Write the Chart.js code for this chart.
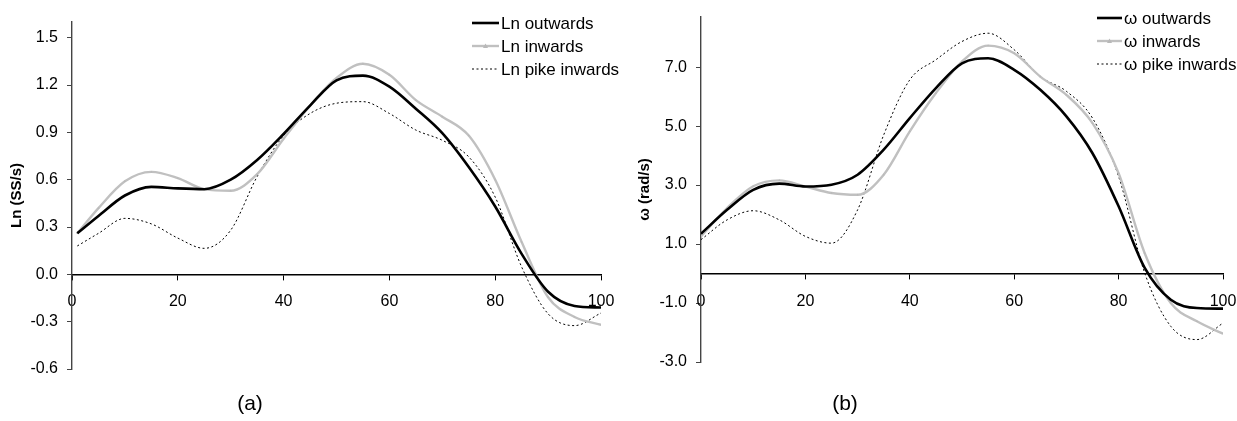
<!DOCTYPE html>
<html>
<head>
<meta charset="utf-8">
<script src="https://cdn.jsdelivr.net/npm/chart.js@4.4.0/dist/chart.umd.min.js"></script>
<style>
  body { margin:0; background:#fff; width:1237px; height:421px; position:relative; overflow:hidden;
         font-family: Arial, "Liberation Sans", sans-serif; }
  canvas { position:absolute; top:0; }
  #chartA { left:0; }
  #chartB { left:620px; }
  .cap { position:absolute; top:391px; width:60px; text-align:center; font-size:21px; color:#000; }
</style>
</head>
<body>
<canvas id="chartA" width="620" height="421"></canvas>
<canvas id="chartB" width="617" height="421"></canvas>
<div class="cap" style="left:220px">(a)</div>
<div class="cap" style="left:815px">(b)</div>
<script>
// % of cycle
const pctA = [1, 5, 10, 15, 20, 25, 30, 35, 40, 45, 50, 55, 60, 65, 70, 75, 80, 85, 90, 95, 100];
const pctB = [0, 5, 10, 15, 20, 25, 30, 35, 40, 45, 50, 55, 60, 65, 70, 75, 80, 85, 90, 95, 100];

// (a) Ln (SS/s)
const lnOutwards = [0.26, 0.37, 0.50, 0.555, 0.545, 0.54, 0.60, 0.725, 0.89, 1.07, 1.23, 1.26, 1.19, 1.05, 0.895, 0.68, 0.43, 0.13, -0.11, -0.20, -0.21];
const lnInwards = [0.26, 0.42, 0.59, 0.65, 0.61, 0.54, 0.53, 0.635, 0.86, 1.07, 1.245, 1.335, 1.265, 1.105, 1.0, 0.88, 0.60, 0.205, -0.145, -0.27, -0.32];
const lnPikeInwards = [0.18, 0.26, 0.355, 0.32, 0.23, 0.165, 0.28, 0.62, 0.88, 1.02, 1.085, 1.095, 1.02, 0.915, 0.85, 0.745, 0.49, 0.047, -0.25, -0.325, -0.245];

// (b) omega (rad/s)
const wOutwards = [1.35, 2.16, 2.84, 3.05, 2.95, 3.01, 3.35, 4.2, 5.27, 6.29, 7.13, 7.3, 6.91, 6.23, 5.33, 4.08, 2.28, 0.19, -0.89, -1.17, -1.19];
const wInwards = [1.26, 2.22, 2.96, 3.16, 2.95, 2.73, 2.67, 3.35, 4.82, 6.12, 7.19, 7.73, 7.47, 6.68, 6.06, 5.1, 3.4, 0.69, -1.0, -1.62, -2.04];
const wPikeInwards = [1.15, 1.82, 2.13, 1.82, 1.26, 1.03, 2.16, 4.7, 6.57, 7.25, 7.87, 8.15, 7.59, 6.68, 6.18, 5.27, 3.29, 0.02, -1.79, -2.24, -1.68];

// tick labels
const xTicks = [0, 20, 40, 60, 80, 100];
const yTicksA = [-0.6, -0.3, 0.0, 0.3, 0.6, 0.9, 1.2, 1.5];
const yTicksB = [-3, -1, 1, 3, 5, 7];

const FONT = 'Arial, "Liberation Sans", sans-serif';
Chart.defaults.font.family = FONT;
Chart.defaults.font.size = 16;
Chart.defaults.color = '#000';

// legend drawn inside the plot, like the original
const legendBox = {
  id: 'legendBox',
  afterDraw(chart, args, opts) {
    const ctx = chart.ctx;
    ctx.save();
    ctx.font = '17px ' + FONT;
    ctx.textBaseline = 'middle';
    chart.data.datasets.forEach((ds, i) => {
      const y = opts.y + i * opts.gap;
      ctx.beginPath();
      ctx.strokeStyle = ds.borderColor;
      ctx.lineWidth = ds.borderWidth;
      ctx.setLineDash(ds.borderDash || []);
      ctx.moveTo(opts.x, y);
      ctx.lineTo(opts.x + opts.len, y);
      ctx.stroke();
      ctx.setLineDash([]);
      if (ds.pointRadius > 0) {
        const mx = opts.x + opts.len / 2;
        ctx.beginPath();
        ctx.fillStyle = ds.pointBackgroundColor;
        ctx.moveTo(mx, y - 2.5);
        ctx.lineTo(mx + 2.5, y + 2);
        ctx.lineTo(mx - 2.5, y + 2);
        ctx.closePath();
        ctx.fill();
      }
      ctx.fillStyle = '#000';
      ctx.fillText(ds.label, opts.x + opts.len + 2, y + 1);
    });
    ctx.restore();
  }
};

function makeChart(id, pct, series, labels, yTicks, yMin, yMax, yTitle, axisW, titlePad, pad, legend) {
  const styles = [
    {borderColor: '#000', borderWidth: 2.6, pointRadius: 0, order: 0},
    {borderColor: '#c0c0c0', borderWidth: 2.4, pointRadius: 1.2, pointStyle: 'triangle',
     pointBackgroundColor: '#b8b8b8', pointBorderColor: '#b8b8b8', pointBorderWidth: 0, order: 1},
    {borderColor: '#000', borderWidth: 1, borderDash: [2, 2.5], pointRadius: 0, order: 2}
  ];
  const datasets = series.map((vals, i) => Object.assign({
    label: labels[i],
    data: vals.map((v, j) => ({x: pct[j], y: v})),
    cubicInterpolationMode: 'monotone',
    fill: false
  }, styles[i]));

  return new Chart(document.getElementById(id), {
    type: 'line',
    data: {datasets},
    options: {
      responsive: false,
      animation: false,
      layout: {padding: pad},
      plugins: {legend: {display: false}, tooltip: {enabled: false}, legendBox: legend},
      scales: {
        x: {
          type: 'linear', min: 0, max: 100,
          position: {y: 0},
          afterBuildTicks: (s) => { s.ticks = xTicks.map(v => ({value: v})); },
          afterFit: (s) => { s.paddingLeft = 0; s.paddingRight = 0; },
          ticks: {padding: 13, maxRotation: 0, callback: (v) => String(v)},
          grid: {drawOnChartArea: false, drawTicks: true, tickLength: 5, color: '#000'},
          border: {color: '#000', width: 1.4}
        },
        y: {
          type: 'linear', min: yMin, max: yMax,
          afterBuildTicks: (s) => { s.ticks = yTicks.map(v => ({value: v})); },
          afterFit: (s) => { s.width = axisW; s.paddingTop = 0; s.paddingBottom = 0; },
          ticks: {padding: 9, callback: (v) => Number(v).toFixed(1)},
          grid: {drawOnChartArea: false, drawTicks: true, tickLength: 5, color: '#444'},
          border: {color: '#444', width: 1.4},
          title: {display: true, text: yTitle, font: {size: 15, weight: 'bold'}, padding: {top: titlePad, bottom: 0}}
        }
      }
    },
    plugins: [legendBox]
  });
}

makeChart('chartA', pctA, [lnOutwards, lnInwards, lnPikeInwards],
  ['Ln outwards', 'Ln inwards', 'Ln pike inwards'],
  yTicksA, -0.6, 1.6, 'Ln (SS/s)', 72, 8,
  {top: 22, bottom: 52, right: 19, left: 0},
  {x: 472, y: 23, gap: 23, len: 27});

makeChart('chartB', pctB, [wOutwards, wInwards, wPikeInwards],
  ['\u03c9 outwards', '\u03c9 inwards', '\u03c9 pike inwards'],
  yTicksB, -3, 8.7, '\u03c9 (rad/s)', 81, 16,
  {top: 17, bottom: 59, right: 14, left: 0},
  {x: 477, y: 18, gap: 23, len: 25});
</script>
</body>
</html>
